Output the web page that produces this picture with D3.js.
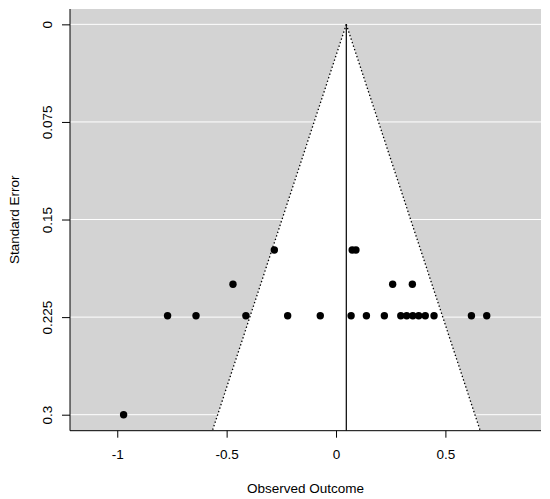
<!DOCTYPE html>
<html>
<head>
<meta charset="utf-8">
<script src="https://cdn.jsdelivr.net/npm/d3@7"></script>
<style>
  body { margin: 0; background: #fff; }
  text { font-family: "Liberation Sans", Arial, sans-serif; }
</style>
</head>
<body>
<svg class="chart" width="550" height="499"></svg>
<script>
// observed outcomes and standard errors, one entry per study
var outcomes = [-0.282, 0.074, 0.091,
                -0.471, 0.259, 0.349,
                -0.770, -0.640, -0.412, -0.221, -0.072, 0.069, 0.139, 0.221,
                0.296, 0.323, 0.351, 0.378, 0.408, 0.448, 0.619, 0.689,
                -0.971];
var stdErrors = [0.1734, 0.1734, 0.1734,
                 0.1998, 0.1998, 0.1998,
                 0.224, 0.224, 0.224, 0.224, 0.224, 0.224, 0.224, 0.224,
                 0.224, 0.224, 0.224, 0.224, 0.224, 0.224, 0.224, 0.224,
                 0.3];
var pooledEstimate = 0.047;
var zCrit = 1.96;

var xTicks = [-1, -0.5, 0, 0.5];
var xTickLabels = ["-1", "-0.5", "0", "0.5"];
var yTicks = [0, 0.075, 0.15, 0.225, 0.3];
var yTickLabels = ["0", "0.075", "0.15", "0.225", "0.3"];

// plot region (note: "top" is taken by window.top, so prefix everything)
var plotLeft = 70, plotRight = 541, plotTop = 9, plotBottom = 430.7;

var x = d3.scaleLinear()
    .domain([-1.216, 0.937])
    .range([plotLeft, plotRight]);

var y = d3.scaleLinear()
    .domain([-0.0118, 0.3123])
    .range([plotTop, plotBottom]);

var chart = d3.select(".chart");

chart.append("clipPath")
    .attr("id", "plotClip")
  .append("rect")
    .attr("x", plotLeft).attr("y", plotTop)
    .attr("width", plotRight - plotLeft).attr("height", plotBottom - plotTop);

// grey background of plot region
chart.append("rect")
    .attr("x", plotLeft).attr("y", plotTop)
    .attr("width", plotRight - plotLeft).attr("height", plotBottom - plotTop)
    .style("fill", "#d3d3d3");

var seMax = y.domain()[1];
var funnel = [[pooledEstimate, 0],
              [pooledEstimate - zCrit * seMax, seMax],
              [pooledEstimate + zCrit * seMax, seMax]];

var line = d3.line()
    .x(function(d) { return x(d[0]); })
    .y(function(d) { return y(d[1]); });

var main = chart.append("g").attr("clip-path", "url(#plotClip)");

// white funnel
main.append("path")
    .attr("d", line(funnel) + "Z")
    .style("fill", "#fff");

// white gridlines
main.selectAll(".grid")
    .data(yTicks)
    .enter().append("line")
    .attr("x1", plotLeft).attr("x2", plotRight)
    .attr("y1", function(d) { return y(d); })
    .attr("y2", function(d) { return y(d); })
    .style("stroke", "#fff")
    .style("stroke-width", "1px");

// pooled estimate line
main.append("line")
    .attr("x1", x(pooledEstimate)).attr("x2", x(pooledEstimate))
    .attr("y1", y(0)).attr("y2", plotBottom)
    .style("stroke", "#000")
    .style("stroke-width", "1.2px");

// dotted funnel edges
[[funnel[0], funnel[1]], [funnel[0], funnel[2]]].forEach(function(seg) {
    main.append("path")
        .attr("d", line(seg))
        .style("fill", "none")
        .style("stroke", "#000")
        .style("stroke-width", "1.3px")
        .style("stroke-dasharray", "1.4,2.3");
});

// study points
chart.selectAll(".dot")
    .data(outcomes)
    .enter().append("circle")
    .attr("cx", function(d) { return x(d); })
    .attr("cy", function(d, i) { return y(stdErrors[i]); })
    .attr("r", 3.7)
    .style("fill", "#000");

// L shaped box
chart.append("path")
    .attr("d", "M" + plotLeft + "," + plotTop + "V" + plotBottom + "H" + plotRight)
    .style("fill", "none")
    .style("stroke", "#000")
    .style("stroke-width", "1px");

// x axis
var xAxis = d3.axisBottom(x)
    .tickValues(xTicks)
    .tickFormat(function(d, i) { return xTickLabels[i]; })
    .tickSize(7)
    .tickPadding(12);

var gx = chart.append("g")
    .attr("transform", "translate(0," + plotBottom + ")")
    .call(xAxis);
gx.select(".domain").remove();
gx.selectAll("text")
    .attr("font-size", "13.5px")
    .attr("font-family", "Liberation Sans, Arial, sans-serif")
    .attr("fill", "#000");

// y axis, labels rotated like base R
var yAxis = d3.axisLeft(y)
    .tickValues(yTicks)
    .tickFormat(function(d, i) { return yTickLabels[i]; })
    .tickSize(8);

var gy = chart.append("g")
    .attr("transform", "translate(" + plotLeft + ",0)")
    .call(yAxis);
gy.select(".domain").remove();
gy.selectAll("text")
    .attr("x", null).attr("dy", null)
    .attr("transform", "translate(-18.5,0) rotate(-90)")
    .attr("text-anchor", "middle")
    .attr("font-size", "13.5px")
    .attr("font-family", "Liberation Sans, Arial, sans-serif")
    .attr("fill", "#000");

chart.append("text")
    .attr("x", (plotLeft + plotRight) / 2)
    .attr("y", 493)
    .attr("text-anchor", "middle")
    .attr("font-size", "13.5px")
    .text("Observed Outcome");

chart.append("text")
    .attr("transform", "translate(18.5," + (plotTop + plotBottom) / 2 + ") rotate(-90)")
    .attr("text-anchor", "middle")
    .attr("font-size", "13.5px")
    .text("Standard Error");
</script>
</body>
</html>
